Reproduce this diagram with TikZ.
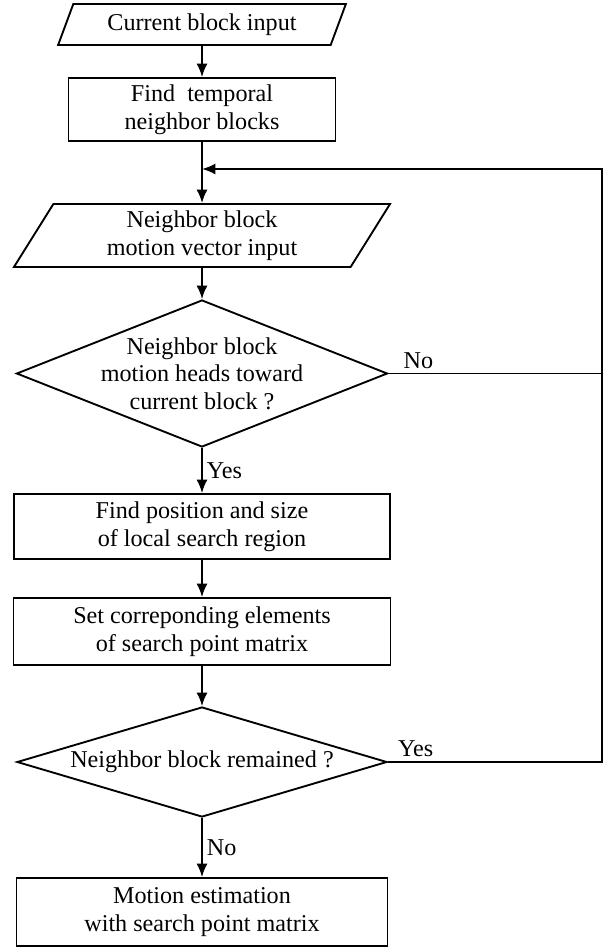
\documentclass[tikz,border=0pt]{standalone}
\usepackage{fontspec}
\setmainfont{Liberation Serif}
\usetikzlibrary{shapes.geometric,arrows.meta}

\newcommand*{\xmid}{202}
\newcommand*{\xloop}{602}

\begin{document}
\begin{tikzpicture}
[
	x=0.03cm, y=-0.03cm,
	font=\fontsize{20.6}{23.6}\selectfont,
	line width=1.6pt,
	procbox/.style={rectangle,draw,align=center,inner sep=0pt},
	iobox/.style={trapezium,trapezium left angle=63,trapezium right angle=117,
		trapezium stretches=true,draw,align=center,inner sep=0pt},
	decision/.style={diamond,draw,inner sep=0pt},
	flow/.style={-{Latex[length=0.4cm,width=0.33cm]}}
]

	\useasboundingbox (0,0) rectangle (606,950);

	% main column
	\node[iobox,minimum width=8.64cm,minimum height=1.23cm] (curin) at (\xmid,24.5) {Current block input};
	\node[procbox,minimum width=8.01cm,minimum height=1.89cm] (findtemp) at (\xmid,109.5) {Find~~temporal\\neighbor blocks};
	\coordinate (join) at (\xmid,169);
	\coordinate (loop) at (\xloop,169);
	\node[iobox,minimum width=11.31cm,minimum height=1.89cm] (nbin) at (\xmid,235.5) {Neighbor block\\motion vector input};
	\node[decision,minimum width=11.13cm,minimum height=4.41cm,
		label={[align=center]center:Neighbor block\\motion heads toward\\current block ?}] (heads) at (\xmid,373.5) {};
	\node[procbox,minimum width=11.28cm,minimum height=1.95cm] (region) at (\xmid,526.5) {Find position and size\\of local search region};
	\node[procbox,minimum width=11.31cm,minimum height=2.01cm] (setmat) at (\xmid,631.5) {Set correponding elements\\of search point matrix};
	\node[decision,minimum width=11.1cm,minimum height=3.3cm,
		label={center:Neighbor block remained ?}] (remain) at (\xmid,762) {};
	\node[procbox,minimum width=11.13cm,minimum height=2.04cm] (motest) at (\xmid,912) {Motion estimation\\with search point matrix};

	% arrows
	\draw[flow] (curin) -- (findtemp);
	\draw (findtemp) -- (join);
	\draw[flow] (join) -- (nbin);
	\draw[flow] (nbin) -- (heads);
	\draw[flow] (heads) -- node[right] {Yes} (region);
	\draw[flow] (region) -- (setmat);
	\draw[flow] (setmat) -- (remain);
	\draw[flow] (remain) -- node[right] {No} (motest);

	% loop back
	\draw (heads.east) -- node[above,pos=0.14] {No} (heads.east -| loop);
	\draw[flow] (remain.east) -- node[above,pos=0.13] {Yes} (remain.east -| loop) -- (loop) -- (join);

\end{tikzpicture}
\end{document}
